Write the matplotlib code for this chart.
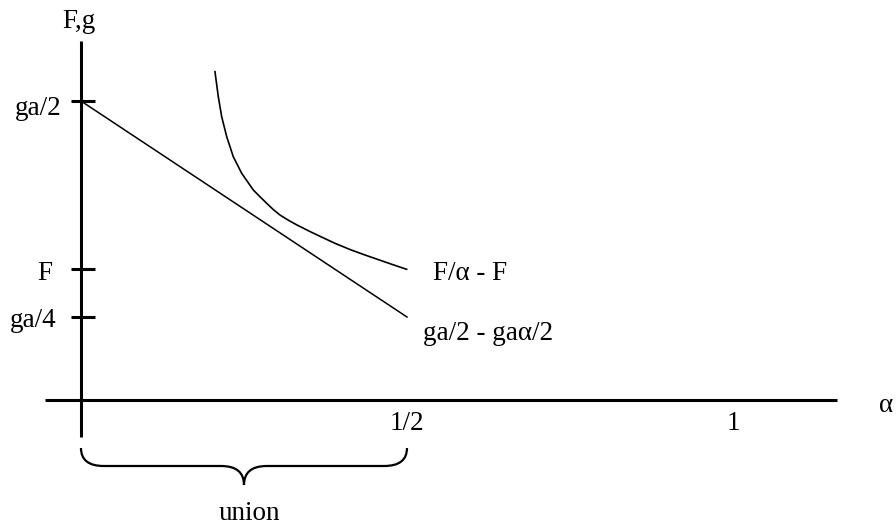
import numpy as np
import matplotlib.pyplot as plt
from matplotlib.path import Path
from matplotlib.patches import PathPatch

plt.rcParams['font.family'] = ['Liberation Serif', 'DejaVu Serif']

# values (alpha on x, F,g on y; ga/2 taken as 1)
tick_vals = [1.0, 0.438, 0.2776]
tick_labels = ["ga/2", "F", "ga/4"]
xtick_vals = [0.5, 1.0]
xtick_labels = ["1/2", "1"]

line_alpha = [0.0, 0.5]
line_val = [1.0, 0.2776]

curve_alpha = [0.2055, 0.2106, 0.2158, 0.2235, 0.2336, 0.2465, 0.2643,
               0.2745, 0.2848, 0.2949, 0.3052, 0.3175, 0.3313, 0.3512,
               0.3666, 0.3896, 0.4126, 0.4356, 0.4586, 0.4785, 0.4995]
curve_val = [1.098, 1.0144, 0.9475, 0.8806, 0.8137, 0.7582, 0.7023,
             0.6799, 0.6579, 0.6371, 0.6187, 0.6020, 0.5853, 0.5635,
             0.5475, 0.5241, 0.5033, 0.4849, 0.4676, 0.4525, 0.4371]

fig = plt.figure(figsize=(8.96, 5.27), dpi=100)
ax = fig.add_axes([0, 0, 1, 1])
ax.set_xlim(-0.1242, 1.25)
ax.set_ylim(-0.4247, 1.3378)
ax.axis('off')

fs = 19.5
lw_axis = 2.2

# axes
ax.plot([0, 0], [-0.124, 1.2007], color='black', lw=lw_axis, solid_capstyle='butt')
ax.plot([-0.0552, 1.1595], [0, 0], color='black', lw=lw_axis, solid_capstyle='butt')

# y ticks
for v in tick_vals:
    ax.plot([-0.0153, 0.0215], [v, v], color='black', lw=lw_axis, solid_capstyle='butt')

ax.text(-0.0291, 0.953, tick_labels[0], fontsize=fs, ha='right', va='baseline')
ax.text(-0.0445, 0.401, tick_labels[1], fontsize=fs, ha='right', va='baseline')
ax.text(-0.0368, 0.244, tick_labels[2], fontsize=fs, ha='right', va='baseline')
ax.text(-0.0031, 1.244, "F,g", fontsize=fs, ha='center', va='baseline')

for xv, lab in zip(xtick_vals, xtick_labels):
    ax.text(xv, -0.099, lab, fontsize=fs, ha='center', va='baseline')
ax.text(1.2347, -0.040, "α", fontsize=fs, ha='center', va='baseline')

# lines
ax.plot(line_alpha, line_val, color='black', lw=1.1)
ax.plot(curve_alpha, curve_val, color='black', lw=1.2, solid_joinstyle='round')

ax.text(0.540, 0.401, "F/α - F", fontsize=fs, ha='left', va='baseline')
ax.text(0.5245, 0.2007, "ga/2 - gaα/2", fontsize=fs, ha='left', va='baseline')

# brace under [0, 1/2]
top, mid, tip = -0.1605, -0.2207, -0.2843
r = 0.035
verts = [(0, top), (0, mid), (r, mid), (0.25 - r, mid), (0.25, mid), (0.25, tip),
         (0.25, mid), (0.25 + r, mid), (0.5 - r, mid), (0.5, mid), (0.5, top)]
codes = [Path.MOVETO, Path.CURVE3, Path.CURVE3, Path.LINETO, Path.CURVE3, Path.CURVE3,
         Path.CURVE3, Path.CURVE3, Path.LINETO, Path.CURVE3, Path.CURVE3]
ax.add_patch(PathPatch(Path(verts, codes), fill=False, lw=1.6, edgecolor='black'))
ax.text(0.2577, -0.401, "union", fontsize=fs, ha='center', va='baseline')

plt.savefig("out.png", dpi=100)
